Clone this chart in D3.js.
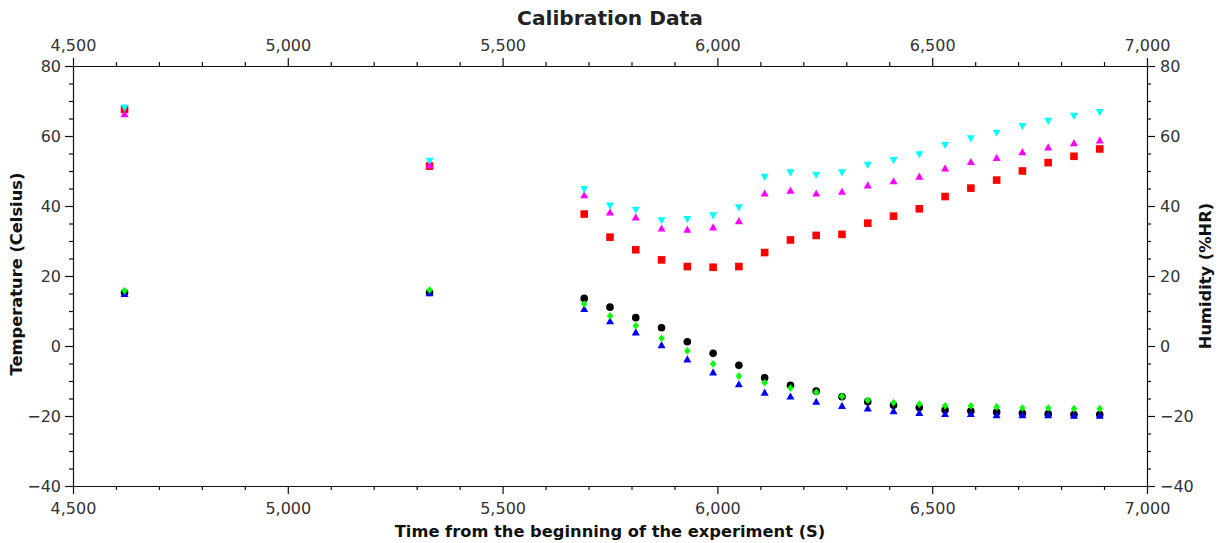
<!DOCTYPE html>
<html>
<head>
<meta charset="utf-8">
<script src="https://cdn.jsdelivr.net/npm/d3@7"></script>
<style>
  body { margin: 0; background: #fff; }
  svg { display: block; font-family: "DejaVu Sans", sans-serif; }
</style>
</head>
<body>
<svg id="chart" width="1223" height="543"></svg>
<script>
// Sample times (seconds from start of the experiment)
const times = [4620, 5330, 5690, 5750, 5810, 5870, 5930, 5990, 6050, 6110, 6170, 6230,
               6290, 6350, 6410, 6470, 6530, 6590, 6650, 6710, 6770, 6830, 6890];

// Temperature readings (Celsius)
const tempA = [15.3, 15.3, 13.6, 11.1, 8.1, 5.2, 1.2, -2.1, -5.5, -9.1, -11.2, -12.9,
               -14.5, -15.9, -16.9, -17.6, -18.3, -18.6, -18.9, -19.2, -19.4, -19.6, -19.6];
const tempB = [15.8, 16.0, 12.0, 8.6, 5.8, 2.2, -1.4, -5.1, -8.6, -10.5, -12.0, -13.2,
               -14.4, -15.5, -16.2, -16.6, -17.1, -17.1, -17.4, -17.7, -17.7, -17.9, -17.9];
const tempC = [14.9, 15.1, 10.6, 7.1, 3.9, 0.3, -3.8, -7.5, -10.9, -13.3, -14.4, -15.9,
               -17.1, -17.8, -18.6, -19.1, -19.4, -19.4, -19.7, -19.7, -19.7, -19.9, -19.9];

// Humidity readings (%HR)
const humA = [67.6, 51.4, 37.7, 31.1, 27.5, 24.6, 22.7, 22.5, 22.7, 26.7, 30.3, 31.6,
              31.9, 35.1, 37.1, 39.2, 42.7, 45.1, 47.4, 50.0, 52.4, 54.2, 56.3];
const humB = [66.3, 51.7, 43.1, 38.2, 36.8, 33.6, 33.3, 33.9, 35.7, 43.6, 44.4, 43.6,
              44.1, 45.9, 47.1, 48.4, 50.8, 52.6, 53.8, 55.4, 56.8, 58.0, 58.8];
const humC = [68.1, 52.9, 44.8, 40.1, 38.9, 35.9, 36.2, 37.3, 39.6, 48.3, 49.6, 48.9,
              49.6, 51.7, 53.1, 54.7, 57.4, 59.3, 60.9, 62.8, 64.3, 65.7, 66.8];

// Axis tick values
const xTicks = [4500, 5000, 5500, 6000, 6500, 7000];
const yTicks = [-40, -20, 0, 20, 40, 60, 80];

const svg = d3.select("#chart");
const plotL = 73, plotR = 1147, plotT = 66, plotB = 486;

const x = d3.scaleLinear().domain([4500, 7000]).range([plotL, plotR]);
const yL = d3.scaleLinear().domain([-40, 80]).range([plotB, plotT]);
const yR = d3.scaleLinear().domain([-40, 80]).range([plotB, plotT]);

const fmt = d3.format(",");
const xMinor = d3.range(4500, 7001, 100).filter(v => v % 500 !== 0);
const yMinor = d3.range(-40, 81, 5).filter(v => v % 20 !== 0);

// makeAxis: () => fresh d3 axis generator for one side
function drawAxis(makeAxis, majorVals, minorVals, transform, labelFn) {
  const gMinor = svg.append("g").attr("transform", transform)
    .call(makeAxis().tickValues(minorVals).tickSize(4).tickFormat(""));
  gMinor.select(".domain").remove();
  gMinor.selectAll("line").attr("stroke", "#111").attr("stroke-width", 1.2);
  const g = svg.append("g").attr("transform", transform)
    .call(makeAxis().tickValues(majorVals).tickSize(8).tickSizeOuter(0).tickFormat(fmt));
  g.selectAll("line, path").attr("stroke", "#111").attr("stroke-width", 1.2);
  g.selectAll("text").attr("fill", "#333").attr("font-size", 16)
    .attr("font-family", "DejaVu Sans");
  labelFn(g.selectAll("text"));
  return g;
}

drawAxis(() => d3.axisBottom(x), xTicks, xMinor, `translate(0,${plotB})`,
  t => t.attr("y", 17).attr("dy", "0.71em"));
drawAxis(() => d3.axisTop(x), xTicks, xMinor, `translate(0,${plotT})`,
  t => t.attr("y", -15).attr("dy", "0"));
drawAxis(() => d3.axisLeft(yL), yTicks, yMinor, `translate(${plotL},0)`,
  t => t.attr("x", -12));
drawAxis(() => d3.axisRight(yR), yTicks, yMinor, `translate(${plotR},0)`,
  t => t.attr("x", 13));

// Marker shapes
const shapes = {
  circle: r => `M${r},0A${r},${r} 0 1,1 ${-r},0A${r},${r} 0 1,1 ${r},0Z`,
  square: r => `M${-r},${-r}H${r}V${r}H${-r}Z`,
  up: r => `M0,${-r}L${r},${r * 0.8}L${-r},${r * 0.8}Z`,
  down: r => `M0,${r}L${r},${-r * 0.8}L${-r},${-r * 0.8}Z`,
  diamond: r => `M0,${-r}L${r * 0.85},0L0,${r}L${-r * 0.85},0Z`
};

const series = [
  { values: humA, scale: yR, shape: "square", r: 3.8, color: "#ff0000" },
  { values: humB, scale: yR, shape: "up", r: 4, color: "#ff00ff" },
  { values: humC, scale: yR, shape: "down", r: 4, color: "#00ffff" },
  { values: tempA, scale: yL, shape: "circle", r: 3.8, color: "#000000" },
  { values: tempC, scale: yL, shape: "up", r: 4, color: "#0000ff" },
  { values: tempB, scale: yL, shape: "diamond", r: 3.8, color: "#00ff00" }
];

const plot = svg.append("g");
series.forEach(s => {
  plot.append("g").selectAll("path")
    .data(times.map((t, i) => [t, s.values[i]]))
    .join("path")
    .attr("transform", d => `translate(${x(d[0])},${s.scale(d[1])})`)
    .attr("d", shapes[s.shape](s.r))
    .attr("fill", s.color);
});

// Titles
svg.append("text").attr("x", (plotL + plotR) / 2).attr("y", 25)
  .attr("text-anchor", "middle").attr("font-size", 20.2).attr("font-weight", "bold")
  .attr("fill", "#222").text("Calibration Data");
svg.append("text").attr("x", (plotL + plotR) / 2).attr("y", 537)
  .attr("text-anchor", "middle").attr("font-size", 16.3).attr("font-weight", "bold")
  .attr("fill", "#111").text("Time from the beginning of the experiment (S)");
svg.append("text").attr("transform", `translate(22,${(plotT + plotB) / 2 - 2}) rotate(-90)`)
  .attr("text-anchor", "middle").attr("font-size", 16.3).attr("font-weight", "bold")
  .attr("fill", "#111").text("Temperature (Celsius)");
svg.append("text").attr("transform", `translate(1211,${(plotT + plotB) / 2}) rotate(-90)`)
  .attr("text-anchor", "middle").attr("font-size", 16.3).attr("font-weight", "bold")
  .attr("fill", "#111").text("Humidity (%HR)");
</script>
</body>
</html>
